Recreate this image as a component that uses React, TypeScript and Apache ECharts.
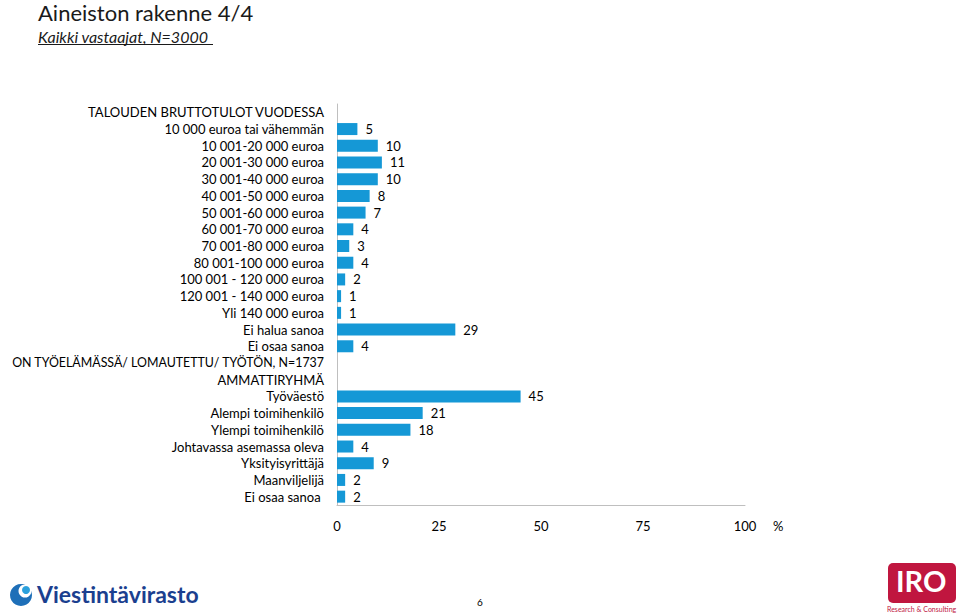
import React, { useEffect, useRef } from "react";
import * as echarts from "echarts";

const categories: string[] = [
  "TALOUDEN BRUTTOTULOT VUODESSA",
  "10 000 euroa tai vähemmän",
  "10 001-20 000 euroa",
  "20 001-30 000 euroa",
  "30 001-40 000 euroa",
  "40 001-50 000 euroa",
  "50 001-60 000 euroa",
  "60 001-70 000 euroa",
  "70 001-80 000 euroa",
  "80 001-100 000 euroa",
  "100 001 - 120 000 euroa",
  "120 001 - 140 000 euroa",
  "Yli 140 000 euroa",
  "Ei halua sanoa",
  "Ei osaa sanoa",
  "ON TYÖELÄMÄSSÄ/ LOMAUTETTU/ TYÖTÖN, N=1737",
  "AMMATTIRYHMÄ",
  "Työväestö",
  "Alempi toimihenkilö",
  "Ylempi toimihenkilö",
  "Johtavassa asemassa oleva",
  "Yksityisyrittäjä",
  "Maanviljelijä",
  "Ei osaa sanoa ",
];

const values: (number | null)[] = [
  null, 5, 10, 11, 10, 8, 7, 4, 3, 4, 2, 1, 1, 29, 4,
  null, null, 45, 21, 18, 4, 9, 2, 2,
];

const xTicks: number[] = [0, 25, 50, 75, 100];

const TITLE = "Aineiston rakenne 4/4";
const SUBTITLE = "Kaikki vastaajat, N=3000";

const FONT = "Lato, 'Open Sans', sans-serif";

export default function App() {
  const ref = useRef<HTMLDivElement>(null);
  useEffect(() => {
    if (!ref.current) return;
    const chart = echarts.init(ref.current, null, { renderer: "svg" });
    const catData = categories.map((c) =>
      c.length > 35 ? { value: c, textStyle: { fontSize: 12.4 } } : c
    );
    chart.setOption({
      animation: false,
      backgroundColor: "#ffffff",
      textStyle: { fontFamily: FONT },
      grid: {
        left: 337,
        right: 215,
        top: 104,
        bottom: 111,
        containLabel: false,
        outerBoundsMode: "none",
      },
      xAxis: {
        type: "value",
        min: xTicks[0],
        max: xTicks[xTicks.length - 1],
        interval: 25,
        axisLine: { show: true, lineStyle: { color: "#bfbfbf", width: 1 } },
        axisTick: { show: false },
        splitLine: { show: false },
        axisLabel: { color: "#000", fontSize: 13, margin: 14, fontFamily: FONT },
      },
      yAxis: {
        type: "category",
        data: catData,
        inverse: true,
        axisLine: { show: true, lineStyle: { color: "#bfbfbf", width: 1 } },
        axisTick: { show: false },
        axisLabel: { color: "#000", fontSize: 13, margin: 13, interval: 0, fontFamily: FONT },
      },
      series: [
        {
          type: "bar",
          data: values,
          barWidth: 12,
          itemStyle: { color: "#1598d6" },
          label: {
            show: true,
            position: "right",
            distance: 8,
            color: "#000",
            fontSize: 13,
            fontFamily: FONT,
            formatter: (p: any) => (p.value == null ? "" : String(p.value)),
          },
        },
      ],
      graphic: [
        {
          type: "text",
          left: 38,
          top: 1,
          style: { text: TITLE, fontSize: 22, fill: "#1a1a1a", fontFamily: FONT },
        },
        {
          type: "text",
          left: 38,
          top: 28,
          style: { text: SUBTITLE, fontSize: 16, fill: "#1a1a1a", fontStyle: "italic", fontFamily: FONT },
        },
        {
          type: "line",
          shape: { x1: 38, y1: 44.5, x2: 213, y2: 44.5 },
          style: { stroke: "#1a1a1a", lineWidth: 1 },
        },
        {
          type: "text",
          left: 773,
          top: 519,
          style: { text: "%", fontSize: 13, fill: "#000", fontFamily: FONT },
        },
        {
          type: "text",
          left: 477,
          top: 597,
          style: { text: "6", fontSize: 10, fill: "#000", fontFamily: FONT },
        },
        // Viestintävirasto logo
        { type: "circle", shape: { cx: 21, cy: 595, r: 11 }, style: { fill: "#1e6fb8" } },
        { type: "circle", shape: { cx: 25, cy: 591, r: 6.5 }, style: { fill: "#ffffff" } },
        { type: "circle", shape: { cx: 26, cy: 590, r: 4 }, style: { fill: "#2aa0dc" } },
        {
          type: "text",
          left: 37,
          top: 582,
          style: { text: "Viestintävirasto", fontSize: 23, fontWeight: "bold", fill: "#1b3f8f", fontFamily: FONT },
        },
        // IRO logo
        { type: "rect", shape: { x: 888, y: 563, width: 68, height: 40, r: 5 }, style: { fill: "#c0163f" } },
        {
          type: "text",
          left: 896,
          top: 566,
          style: { text: "IRO", fontSize: 29, fontWeight: "bold", fill: "#ffffff", fontFamily: FONT },
        },
        {
          type: "text",
          left: 887,
          top: 605,
          style: { text: "Research & Consulting", fontSize: 7, fill: "#c0163f", fontFamily: FONT },
        },
      ],
    });
    return () => chart.dispose();
  }, []);
  return <div ref={ref} style={{ width: 960, height: 616, position: "absolute", left: 0, top: 0 }} />;
}
